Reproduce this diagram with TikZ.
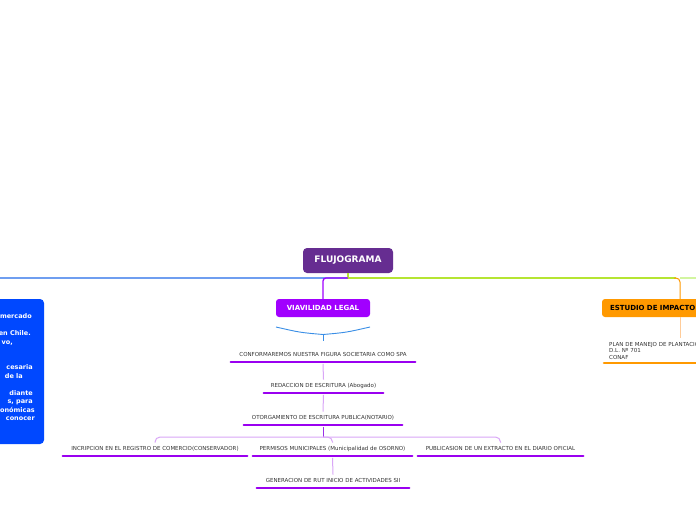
\documentclass[tikz,border=0pt]{standalone}
\usepackage{fontspec}
\setmainfont{DejaVu Sans}
\definecolor{titlec}{HTML}{662D91}
\definecolor{viac}{HTML}{A100FF}
\definecolor{ulc}{HTML}{9A00F0}
\definecolor{lightp}{HTML}{D9A6F7}
\definecolor{darkp}{HTML}{9B30E8}
\definecolor{bluel}{HTML}{6F9EF0}
\definecolor{boxblue}{HTML}{0048FF}
\definecolor{greenl}{HTML}{B5E532}
\definecolor{lgreen}{HTML}{D2F5A0}
\definecolor{orangec}{HTML}{FF9900}
\definecolor{lorange}{HTML}{FFCC99}
\definecolor{braceblue}{HTML}{3A8EE6}
\definecolor{txt}{HTML}{333333}
\begin{document}
\begin{tikzpicture}[x=1pt,y=-1pt,
  topic/.style={font=\fontsize{5.5}{6.5}\selectfont, text=txt, inner xsep=0pt,
    inner ysep=3.8pt, text height=4.2pt, text depth=1.2pt, anchor=south},
  uline/.style={ulc, line width=2.6pt, line cap=round},
  oline/.style={orangec, line width=2.6pt, line cap=round},
  conn/.style={lightp, line width=1pt},
  mainbox/.style={rounded corners=4pt, text=white, font=\bfseries\fontsize{9}{10}\selectfont,
    minimum width=90pt, minimum height=25pt, inner sep=0pt},
  subbox/.style={rounded corners=3pt, font=\bfseries\fontsize{7}{8}\selectfont,
    minimum height=18pt, inner sep=0pt},
  lefttxt/.style={anchor=base east, text=white, font=\bfseries\fontsize{6.5}{7}\selectfont, inner sep=0pt}]
\useasboundingbox (0,0) rectangle (696,520);
\clip (0,0) rectangle (696,520);
\fill[white] (0,0) rectangle (696,520);

% left blue box (cut by the edge)
\fill[boxblue, rounded corners=4pt] (-160,299) rectangle (44,444);
\node[lefttxt] (l1) at (32,318.5) {mercado};
\node[lefttxt] (l2) at (31,335.5) {en Chile.};
\node[lefttxt] (l3) at (13,344) {vo,};
\node[lefttxt] (l4) at (33,369.5) {cesaria};
\node[lefttxt] (l5) at (23,378) {de la};
\node[lefttxt] (l6) at (33,395) {diante};
\node[lefttxt] (l7) at (33,403.5) {s, para};
\node[lefttxt] (l8) at (35,412) {onómicas};
\node[lefttxt] (l9) at (35,420.5) {conocer};

% main nodes
\node[mainbox, fill=titlec] (title) at (348,260.5) {FLUJOGRAMA};
\node[subbox, fill=viac, text=white, minimum width=94pt] (viav) at (323,308) {VIAVILIDAD LEGAL};
\node[subbox, fill=orangec, text=black, minimum width=156pt, text width=140pt, align=left] (est) at (680,308) {ESTUDIO DE IMPACTO};

\coordinate (hub) at (348,278);
\coordinate (leftend) at (-20,278);
\coordinate (rightend) at (720,278);
\coordinate (bend) at (680,278);

% top connectors
\draw[bluel, line width=1.3pt] (hub) -- (leftend);
\draw[greenl, line width=1.3pt] (title.south) -- (hub) -- ([xshift=-4pt]bend);
\draw[lgreen, line width=1.3pt] (bend) -- (rightend);
\draw[orangec, line width=1pt, rounded corners=4pt] ([xshift=-6pt]bend) -| (est.north);
\draw[viac, line width=1.3pt, rounded corners=3pt] (hub) -| (viav.north);

% brace below VIAVILIDAD LEGAL
\coordinate (bl) at (276,327);
\coordinate (bm) at (323,334.5);
\coordinate (br) at (370,327);
\coordinate (bt) at (323,340.5);
\draw[braceblue, line width=0.9pt] (bl) .. controls (300,332.5) .. (bm) .. controls (346,332.5) .. (br);
\draw[braceblue, line width=0.9pt] (bm) -- (bt);

% topics
\node[topic, minimum width=184pt] (c1) at (323,362) {CONFORMAREMOS NUESTRA FIGURA SOCIETARIA COMO SPA};
\node[topic, minimum width=119pt] (c2) at (323.5,393) {REDACCION DE ESCRITURA (Abogado)};
\node[topic, minimum width=158pt] (c3) at (323,425) {OTORGAMIENTO DE ESCRITURA PUBLICA(NOTARIO)};
\node[topic, minimum width=184pt] (c4) at (155,456) {INCRIPCION EN EL REGISTRO DE COMERCIO(CONSERVADOR)};
\node[topic, minimum width=159pt] (c5) at (332.5,456) {PERMISOS MUNICIPALES (Municipalidad de OSORNO)};
\node[topic, minimum width=165pt] (c6) at (500.5,456) {PUBLICASION DE UN EXTRACTO EN EL DIARIO OFICIAL};
\node[topic, minimum width=152pt] (c7) at (333,488) {GENERACION DE RUT INICIO DE ACTIVIDADES SII};
\foreach \n in {c1,c2,c3,c4,c5,c6,c7} \draw[uline] (\n.south west) -- (\n.south east);

\draw[conn] ([yshift=-1.8pt]c1.south) -- (c2.north);
\draw[conn] ([yshift=-1.8pt]c2.south) -- (c3.north);
\coordinate (bus) at (323,437);
\draw[darkp, line width=1pt] ([yshift=-1.8pt]c3.south) -- (bus);
\draw[conn, rounded corners=5pt] (c4.north) |- (bus) -| (c6.north);
\draw[conn, rounded corners=5pt] (bus) -| (c5.north);
\draw[conn] ([yshift=-1.8pt]c5.south) -- (c7.north);

% right branch
\node[font=\fontsize{5.5}{6.5}\selectfont, text=txt, anchor=south west, inner xsep=5pt, inner ysep=3.5pt,
  minimum width=140pt, text width=130pt, align=left] (plan) at (604,363)
  {PLAN DE MANEJO DE PLANTACIONES\\D.L. Nº 701\\CONAF};
\draw[oline] (plan.south west) -- (plan.south east);
\draw[lorange, line width=1pt] (est.south) -- (est.south |- plan.north);
\end{tikzpicture}
\end{document}
